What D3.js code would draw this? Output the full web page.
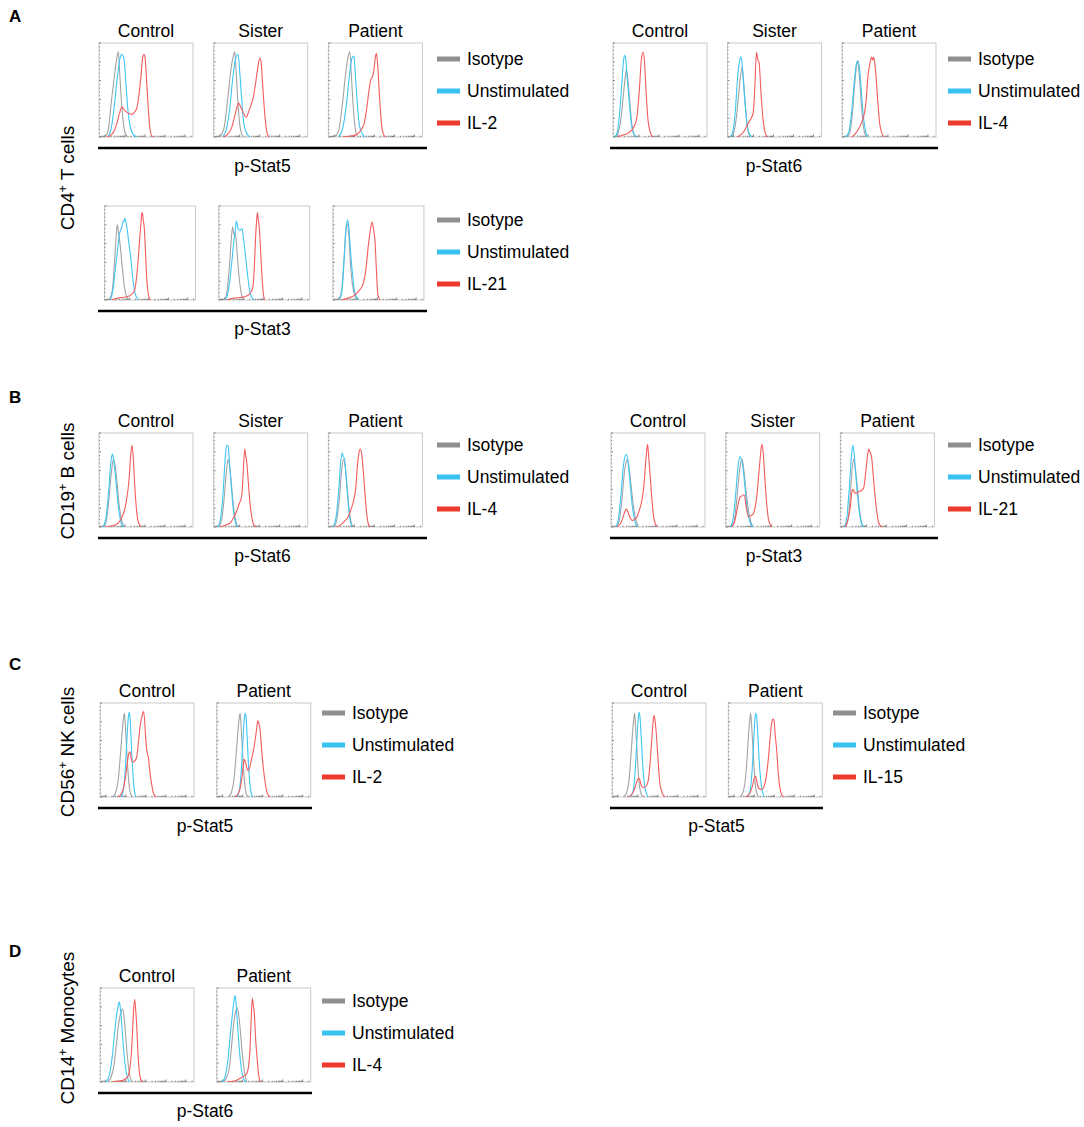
<!DOCTYPE html>
<html>
<head>
<meta charset="utf-8">
<script src="https://cdn.jsdelivr.net/npm/d3@7"></script>
<style>
  body { margin: 0; background: #fff; }
  text { font-family: "Liberation Sans", Arial, Helvetica, sans-serif; fill: #000; }
</style>
</head>
<body>
<svg id="fig" width="1084" height="1127"></svg>
<script>
// ---- labels ----
const samples3 = ['Control', 'Sister', 'Patient'];
const samples2 = ['Control', 'Patient'];
const legendNames = ['Isotype', 'Unstimulated'];

// ---- histograms: [log10 fluorescence, % of max] per sample ----
// A: CD4+ T cells, p-Stat5 / IL-2
const cd4Stat5Iso = [
  [[1.0,0],[1.15,6],[1.33,40],[1.5,70],[1.6,85],[1.67,91],[1.73,70],[1.8,45],[1.9,18],[2.0,5],[2.1,1],[2.2,0]],
  [[1.0,0],[1.2,8],[1.4,40],[1.55,70],[1.68,86],[1.75,91],[1.82,70],[1.9,40],[2.0,14],[2.1,3],[2.2,0]],
  [[1.0,0],[1.2,6],[1.4,35],[1.55,65],[1.68,85],[1.77,91],[1.85,65],[1.95,30],[2.05,8],[2.15,1],[2.25,0]]
];
const cd4Stat5Uns = [
  [[1.15,0],[1.3,8],[1.45,30],[1.6,60],[1.75,84],[1.85,88],[1.9,86],[1.97,80],[2.05,55],[2.15,28],[2.25,12],[2.4,3],[2.6,0]],
  [[1.15,0],[1.35,10],[1.5,30],[1.65,62],[1.8,84],[1.92,88],[2.0,70],[2.1,40],[2.2,15],[2.35,4],[2.5,0]],
  [[1.2,0],[1.4,8],[1.6,35],[1.75,65],[1.88,84],[1.98,86],[2.05,65],[2.15,35],[2.25,12],[2.4,3],[2.55,0]]
];
const cd4Stat5Il2 = [
  [[1.08,0],[1.3,2],[1.45,6],[1.6,15],[1.75,27],[1.85,32],[1.95,29],[2.05,27],[2.2,25],[2.35,24],[2.45,26],[2.58,30],[2.7,45],[2.8,65],[2.88,84],[2.95,88],[3.0,85],[3.08,60],[3.15,35],[3.25,8],[3.35,1],[3.45,0]],
  [[1.17,0],[1.4,3],[1.6,10],[1.75,22],[1.88,33],[1.95,36],[2.05,32],[2.2,25],[2.33,21],[2.45,27],[2.58,35],[2.67,41],[2.78,55],[2.9,73],[3.0,84],[3.07,80],[3.15,55],[3.25,25],[3.35,6],[3.45,0]],
  [[1.4,0],[1.8,1],[2.05,2],[2.23,5],[2.38,9],[2.48,14],[2.6,28],[2.72,48],[2.82,61],[2.9,64],[2.98,72],[3.05,85],[3.1,89],[3.17,75],[3.25,45],[3.35,15],[3.45,3],[3.55,0]]
];
// A: CD4+ T cells, p-Stat6 / IL-4
const cd4Stat6Iso = [
  [[0.85,0],[0.95,4],[1.1,20],[1.22,45],[1.32,65],[1.37,72],[1.45,60],[1.55,35],[1.65,12],[1.75,3],[1.85,0]],
  [[0.9,0],[1.0,4],[1.15,22],[1.27,48],[1.37,68],[1.43,74],[1.5,60],[1.6,32],[1.7,10],[1.8,2],[1.9,0]],
  [[0.95,0],[1.1,5],[1.22,25],[1.33,55],[1.42,75],[1.48,81],[1.55,70],[1.65,40],[1.75,15],[1.85,3],[1.95,0]]
];
const cd4Stat6Uns = [
  [[0.8,0],[0.92,6],[1.05,30],[1.15,60],[1.22,80],[1.28,87],[1.34,82],[1.42,60],[1.52,35],[1.62,14],[1.72,4],[1.85,0]],
  [[0.85,0],[0.97,6],[1.1,30],[1.2,62],[1.3,80],[1.37,85],[1.42,80],[1.5,58],[1.6,30],[1.7,10],[1.8,3],[1.92,0]],
  [[0.9,0],[1.05,6],[1.2,30],[1.32,60],[1.42,78],[1.5,81],[1.58,72],[1.68,45],[1.78,20],[1.88,6],[2.0,0]]
];
const cd4Stat6Il4 = [
  [[0.95,0],[1.2,2],[1.45,4],[1.62,7],[1.75,11],[1.87,18],[1.95,32],[2.03,54],[2.12,83],[2.2,90],[2.28,79],[2.35,50],[2.45,18],[2.55,6],[2.62,2],[2.72,0]],
  [[1.15,0],[1.4,3],[1.55,7],[1.65,11],[1.8,17],[1.98,25],[2.06,50],[2.15,90],[2.22,82],[2.28,79],[2.38,45],[2.48,18],[2.58,5],[2.68,0]],
  [[1.15,0],[1.35,3],[1.48,7],[1.65,14],[1.82,25],[1.92,42],[1.98,61],[2.08,76],[2.18,85],[2.23,82],[2.28,85],[2.34,78],[2.4,65],[2.5,35],[2.58,15],[2.65,7],[2.73,2],[2.82,0]]
];
// A: CD4+ T cells, p-Stat3 / IL-21
const cd4Stat3Iso = [
  [[0.95,0],[1.1,10],[1.22,40],[1.3,67],[1.36,80],[1.42,72],[1.5,60],[1.6,39],[1.72,15],[1.85,3],[1.95,0]],
  [[1.0,0],[1.12,8],[1.25,35],[1.35,65],[1.42,78],[1.48,70],[1.55,72],[1.65,50],[1.75,25],[1.87,7],[2.0,0]],
  [[1.0,0],[1.15,10],[1.28,45],[1.37,75],[1.44,81],[1.52,70],[1.6,40],[1.7,18],[1.82,5],[1.95,0]]
];
const cd4Stat3Uns = [
  [[1.0,0],[1.15,12],[1.27,35],[1.4,58],[1.47,70],[1.53,74],[1.6,78],[1.66,84],[1.7,83],[1.75,87],[1.85,78],[1.95,62],[2.05,46],[2.15,25],[2.25,10],[2.35,3],[2.45,0]],
  [[1.05,0],[1.2,10],[1.35,35],[1.48,62],[1.56,75],[1.61,84],[1.7,76],[1.8,74],[1.9,76],[2.0,62],[2.09,46],[2.2,25],[2.3,10],[2.4,3],[2.55,0]],
  [[1.05,0],[1.18,12],[1.3,50],[1.38,75],[1.46,85],[1.52,78],[1.6,55],[1.7,30],[1.8,12],[1.9,4],[2.0,0]]
];
const cd4Stat3Il21 = [
  [[1.05,0],[1.4,2],[1.7,3],[1.94,4],[2.1,6],[2.25,10],[2.36,25],[2.45,46],[2.52,66],[2.58,81],[2.63,92],[2.66,93],[2.7,85],[2.75,78],[2.82,50],[2.88,24],[2.95,8],[3.02,2],[3.1,0]],
  [[1.1,0],[1.5,2],[1.9,3],[2.1,4],[2.28,6],[2.4,10],[2.47,14],[2.54,35],[2.6,64],[2.66,85],[2.7,93],[2.75,85],[2.81,74],[2.87,50],[2.94,24],[3.0,8],[3.08,0]],
  [[1.1,0],[1.5,2],[1.88,6],[2.05,10],[2.26,17],[2.4,32],[2.54,60],[2.64,75],[2.73,83],[2.8,75],[2.87,64],[2.94,35],[3.02,6],[3.1,1],[3.17,0]]
];
// B: CD19+ B cells, p-Stat6 / IL-4
const cd19Stat6Iso = [
  [[0.95,0],[1.08,8],[1.2,30],[1.32,58],[1.42,72],[1.5,66],[1.6,48],[1.7,25],[1.8,10],[1.92,2],[2.0,0]],
  [[0.95,0],[1.1,8],[1.22,30],[1.33,58],[1.42,72],[1.5,64],[1.6,42],[1.7,20],[1.8,7],[1.9,0]],
  [[1.0,0],[1.12,8],[1.25,30],[1.36,60],[1.46,72],[1.54,64],[1.64,42],[1.74,18],[1.84,5],[1.95,0]]
];
const cd19Stat6Uns = [
  [[0.9,0],[1.05,10],[1.18,38],[1.3,70],[1.37,78],[1.45,68],[1.55,48],[1.65,25],[1.75,10],[1.85,2],[1.95,0]],
  [[0.92,0],[1.05,10],[1.18,40],[1.28,75],[1.35,87],[1.42,86],[1.5,65],[1.6,38],[1.7,15],[1.8,4],[1.9,0]],
  [[0.95,0],[1.08,10],[1.22,40],[1.32,70],[1.4,79],[1.45,74],[1.5,74],[1.58,55],[1.68,28],[1.78,8],[1.88,0]]
];
const cd19Stat6Il4 = [
  [[1.05,0],[1.3,1],[1.5,2],[1.65,4],[1.75,7],[1.88,12],[2.0,20],[2.1,32],[2.2,50],[2.28,75],[2.35,87],[2.41,75],[2.48,47],[2.56,22],[2.63,9],[2.69,4],[2.78,0]],
  [[1.0,0],[1.3,2],[1.55,5],[1.7,10],[1.85,17],[1.98,25],[2.1,33],[2.17,55],[2.25,83],[2.3,76],[2.35,70],[2.43,48],[2.5,29],[2.58,14],[2.69,3],[2.83,0]],
  [[1.05,0],[1.3,2],[1.5,6],[1.69,11],[1.85,20],[1.97,29],[2.07,42],[2.15,65],[2.22,78],[2.29,83],[2.36,78],[2.44,61],[2.53,35],[2.63,11],[2.7,3],[2.78,0]]
];
// B: CD19+ B cells, p-Stat3 / IL-21
const cd19Stat3Iso = [
  [[1.0,0],[1.12,8],[1.25,30],[1.38,60],[1.47,70],[1.52,72],[1.6,64],[1.7,45],[1.82,22],[1.95,7],[2.08,0]],
  [[1.0,0],[1.12,6],[1.25,28],[1.38,58],[1.47,70],[1.52,72],[1.6,62],[1.7,42],[1.82,20],[1.95,6],[2.08,0]],
  [[0.95,0],[1.08,8],[1.2,35],[1.3,65],[1.37,72],[1.45,62],[1.55,42],[1.65,20],[1.75,6],[1.85,0]]
];
const cd19Stat3Uns = [
  [[0.95,0],[1.08,10],[1.2,35],[1.32,65],[1.42,76],[1.48,77],[1.56,68],[1.65,48],[1.75,25],[1.87,8],[2.0,0]],
  [[0.95,0],[1.08,10],[1.2,35],[1.32,65],[1.42,75],[1.48,72],[1.55,66],[1.65,45],[1.77,20],[1.9,6],[2.05,0]],
  [[0.9,0],[1.02,10],[1.14,40],[1.25,75],[1.32,87],[1.38,80],[1.45,60],[1.55,35],[1.65,15],[1.75,4],[1.87,0]]
];
const cd19Stat3Il21 = [
  [[1.0,0],[1.15,3],[1.3,10],[1.4,17],[1.47,19],[1.55,16],[1.65,10],[1.75,7],[1.88,8],[2.0,11],[2.12,18],[2.25,29],[2.35,45],[2.42,65],[2.5,84],[2.53,88],[2.58,76],[2.67,51],[2.75,28],[2.83,11],[2.92,3],[3.0,0]],
  [[1.0,0],[1.15,6],[1.3,22],[1.42,32],[1.5,33],[1.58,34],[1.63,34],[1.72,22],[1.83,11],[1.95,12],[2.08,14],[2.18,22],[2.25,32],[2.35,55],[2.42,72],[2.5,88],[2.56,82],[2.62,65],[2.7,38],[2.78,18],[2.85,7],[3.0,0]],
  [[0.95,0],[1.08,8],[1.2,22],[1.27,37],[1.33,40],[1.42,36],[1.53,36],[1.62,38],[1.7,38],[1.8,40],[1.87,42],[1.95,55],[2.0,65],[2.07,78],[2.12,83],[2.18,80],[2.25,76],[2.33,58],[2.45,29],[2.55,12],[2.62,4],[2.78,0]]
];
// C: CD56+ NK cells, p-Stat5 / IL-2
const cd56Il2Iso = [
  [[1.35,0],[1.5,6],[1.62,20],[1.72,45],[1.82,72],[1.88,85],[1.92,89],[1.97,75],[2.05,45],[2.13,18],[2.2,6],[2.3,0]],
  [[1.3,0],[1.45,6],[1.57,20],[1.67,45],[1.77,72],[1.83,85],[1.87,89],[1.92,75],[2.0,45],[2.08,18],[2.15,6],[2.25,0]]
];
const cd56Il2Uns = [
  [[1.75,0],[1.85,6],[1.95,25],[2.03,55],[2.1,80],[2.15,90],[2.2,85],[2.26,60],[2.33,30],[2.4,10],[2.5,0]],
  [[1.7,0],[1.82,6],[1.92,25],[2.0,55],[2.07,80],[2.12,89],[2.17,85],[2.23,60],[2.3,30],[2.38,10],[2.48,0]]
];
const cd56Il2Stim = [
  [[1.6,0],[1.75,3],[1.88,10],[1.98,22],[2.08,39],[2.14,46],[2.2,48],[2.27,40],[2.33,37],[2.42,38],[2.53,42],[2.62,58],[2.7,74],[2.8,86],[2.87,91],[2.93,82],[2.98,64],[3.05,48],[3.12,42],[3.2,26],[3.28,14],[3.36,5],[3.45,1],[3.53,0]],
  [[1.6,0],[1.75,3],[1.88,10],[1.98,24],[2.05,38],[2.08,40],[2.15,36],[2.22,30],[2.28,28],[2.38,34],[2.48,44],[2.56,52],[2.63,62],[2.7,73],[2.75,81],[2.8,79],[2.87,71],[2.95,50],[3.03,31],[3.12,16],[3.2,6],[3.28,2],[3.37,0]]
];
// C: CD56+ NK cells, p-Stat5 / IL-15
const cd56Il15Iso = [
  [[1.3,0],[1.45,6],[1.56,20],[1.65,45],[1.74,72],[1.8,85],[1.83,89],[1.88,75],[1.96,45],[2.04,18],[2.12,6],[2.25,0]],
  [[1.3,0],[1.45,6],[1.56,20],[1.65,45],[1.73,72],[1.79,85],[1.82,89],[1.87,75],[1.95,45],[2.03,18],[2.1,6],[2.22,0]]
];
const cd56Il15Uns = [
  [[1.6,0],[1.75,6],[1.85,25],[1.93,55],[2.0,80],[2.05,90],[2.1,85],[2.17,60],[2.25,30],[2.35,10],[2.5,0]],
  [[1.65,0],[1.78,6],[1.88,25],[1.96,55],[2.02,80],[2.07,89],[2.12,85],[2.19,60],[2.27,30],[2.37,10],[2.5,0]]
];
const cd56Il15Stim = [
  [[1.5,0],[1.65,2],[1.78,6],[1.88,12],[1.95,17],[2.02,20],[2.08,19],[2.15,13],[2.25,10],[2.38,11],[2.5,16],[2.58,30],[2.67,55],[2.75,78],[2.8,87],[2.86,80],[2.92,66],[3.0,40],[3.08,17],[3.18,6],[3.3,1],[3.42,0]],
  [[1.55,0],[1.7,2],[1.82,6],[1.92,13],[2.0,20],[2.07,22],[2.13,16],[2.23,9],[2.35,8],[2.48,11],[2.6,22],[2.7,40],[2.8,65],[2.88,80],[2.93,83],[2.98,82],[3.05,65],[3.12,50],[3.2,25],[3.28,10],[3.38,2],[3.45,0]]
];
// D: CD14+ monocytes, p-Stat6 / IL-4
const cd14Stat6Iso = [
  [[1.1,0],[1.25,5],[1.4,18],[1.52,40],[1.62,60],[1.72,72],[1.78,76],[1.83,78],[1.9,70],[1.98,50],[2.08,25],[2.18,8],[2.3,0]],
  [[1.05,0],[1.2,5],[1.35,18],[1.45,40],[1.55,62],[1.65,75],[1.73,79],[1.8,72],[1.88,55],[1.98,30],[2.08,12],[2.2,0]]
];
const cd14Stat6Uns = [
  [[1.0,0],[1.15,6],[1.3,25],[1.42,50],[1.52,70],[1.6,80],[1.67,85],[1.72,78],[1.8,58],[1.9,30],[2.0,12],[2.1,3],[2.2,0]],
  [[0.98,0],[1.12,6],[1.27,25],[1.4,55],[1.5,75],[1.57,87],[1.62,92],[1.68,80],[1.76,55],[1.86,28],[1.96,10],[2.08,2],[2.2,0]]
];
const cd14Stat6Il4 = [
  [[1.3,0],[1.6,1],[1.87,2],[2.0,4],[2.12,7],[2.2,15],[2.28,34],[2.33,55],[2.37,73],[2.43,88],[2.48,78],[2.53,62],[2.6,30],[2.66,12],[2.72,4],[2.83,0]],
  [[1.2,0],[1.6,1],[1.87,4],[2.05,6],[2.2,9],[2.3,18],[2.37,37],[2.43,70],[2.48,89],[2.53,82],[2.58,73],[2.65,45],[2.73,23],[2.8,7],[2.87,0]]
];

// ---- layout ----
const boxH = 94;
const colors = { iso: '#a3a3a3', uns: '#3fc6f2', stim: '#f45c5c' };
const swatch = { iso: '#8f8f8f', uns: '#38c2f0', stim: '#ee3a2c' };

const groups = [
  { left: 99,  top: 43,  w: 94, pitch: 114.7, line: [98, 427],  names: samples3, readout: 'p-Stat5', stim: 'IL-2',  legendY: 91,   data: [cd4Stat5Iso, cd4Stat5Uns, cd4Stat5Il2] },
  { left: 613, top: 43,  w: 94, pitch: 114.5, line: [610, 938], names: samples3, readout: 'p-Stat6', stim: 'IL-4',  legendY: 91,   data: [cd4Stat6Iso, cd4Stat6Uns, cd4Stat6Il4] },
  { left: 104.5, top: 206, w: 91, pitch: 114.2, line: [98, 427], names: samples3, readout: 'p-Stat3', stim: 'IL-21', legendY: 252,  data: [cd4Stat3Iso, cd4Stat3Uns, cd4Stat3Il21], noTitle: true },
  { left: 99,  top: 433, w: 94, pitch: 114.7, line: [98, 427],  names: samples3, readout: 'p-Stat6', stim: 'IL-4',  legendY: 477,  data: [cd19Stat6Iso, cd19Stat6Uns, cd19Stat6Il4] },
  { left: 611, top: 433, w: 94, pitch: 114.7, line: [610, 938], names: samples3, readout: 'p-Stat3', stim: 'IL-21', legendY: 477,  data: [cd19Stat3Iso, cd19Stat3Uns, cd19Stat3Il21] },
  { left: 100, top: 703, w: 94, pitch: 116.7, line: [98, 312],  names: samples2, readout: 'p-Stat5', stim: 'IL-2',  legendY: 745,  data: [cd56Il2Iso, cd56Il2Uns, cd56Il2Stim] },
  { left: 612, top: 703, w: 94, pitch: 116.3, line: [610, 823], names: samples2, readout: 'p-Stat5', stim: 'IL-15', legendY: 745,  data: [cd56Il15Iso, cd56Il15Uns, cd56Il15Stim] },
  { left: 100, top: 988, w: 94, pitch: 116.7, line: [98, 312],  names: samples2, readout: 'p-Stat6', stim: 'IL-4',  legendY: 1033, data: [cd14Stat6Iso, cd14Stat6Uns, cd14Stat6Il4] }
];

const letters = [['A', 22], ['B', 403], ['C', 670], ['D', 957]];
const cellLabels = [['CD4', ' T cells', 178], ['CD19', ' B cells', 481], ['CD56', ' NK cells', 752], ['CD14', ' Monocytes', 1028]];

// ---- scales ----
const y = d3.scaleLinear().domain([0, 100]).range([boxH, 0]);

const svg = d3.select('#fig');
svg.append('rect').attr('width', 1084).attr('height', 1127).attr('fill', '#fff');
const defs = svg.append('defs');

function drawBox(g, series, boxW, clipId) {
  const x = d3.scaleLinear().domain([0.7, 5.4]).range([0, boxW]);
  const xLog = d3.scaleLog().domain([Math.pow(10, 0.7), Math.pow(10, 5.4)]).range([0, boxW]);
  const line = d3.line().x(d => x(d[0])).y(d => y(d[1])).curve(d3.curveMonotoneX);

  g.append('rect').attr('width', boxW).attr('height', boxH)
    .attr('fill', '#fff').attr('stroke', '#c9c9c9').attr('stroke-width', 1);

  // left ticks
  g.selectAll('.ytick').data(d3.range(0, 101, 4)).join('line')
    .attr('x1', 0).attr('x2', d => d % 20 === 0 ? 2 : 1)
    .attr('y1', d => y(d)).attr('y2', d => y(d))
    .attr('stroke', '#555').attr('stroke-width', 0.7);

  // bottom log ticks
  g.selectAll('.xtick').data(xLog.ticks()).join('line')
    .attr('x1', d => xLog(d)).attr('x2', d => xLog(d))
    .attr('y1', boxH).attr('y2', d => Math.abs(Math.log10(d) % 1) < 1e-6 ? boxH - 2.5 : boxH - 1.3)
    .attr('stroke', '#555').attr('stroke-width', 0.7);

  defs.append('clipPath').attr('id', clipId)
    .append('rect').attr('width', boxW).attr('height', boxH);
  const plot = g.append('g').attr('clip-path', `url(#${clipId})`);
  [['iso', series[0]], ['uns', series[1]], ['stim', series[2]]].forEach(([k, pts]) => {
    plot.append('path').attr('d', line(pts))
      .attr('fill', 'none').attr('stroke', colors[k]).attr('stroke-width', 1.1)
      .attr('stroke-linejoin', 'round');
  });
}

groups.forEach((grp, gi) => {
  grp.names.forEach((name, i) => {
    const gx = grp.left + i * grp.pitch;
    const g = svg.append('g').attr('transform', `translate(${gx},${grp.top})`);
    drawBox(g, [grp.data[0][i], grp.data[1][i], grp.data[2][i]], grp.w, `clip${gi}_${i}`);
    if (!grp.noTitle) {
      svg.append('text').attr('x', gx + grp.w / 2).attr('y', grp.top - 6)
        .attr('text-anchor', 'middle').attr('font-size', 17.5).text(name);
    }
  });

  const lineY = grp.top + boxH + 11;
  svg.append('line').attr('x1', grp.line[0]).attr('x2', grp.line[1])
    .attr('y1', lineY).attr('y2', lineY).attr('stroke', '#000').attr('stroke-width', 2.6);
  svg.append('text').attr('x', (grp.line[0] + grp.line[1]) / 2).attr('y', lineY + 24)
    .attr('text-anchor', 'middle').attr('font-size', 17.5).text(grp.readout);

  // legend
  const entries = [['iso', legendNames[0]], ['uns', legendNames[1]], ['stim', grp.stim]];
  const lx = grp.line[1] + 10;
  entries.forEach(([k, label], j) => {
    const cy = grp.legendY + (j - 1) * 32;
    svg.append('rect').attr('x', lx).attr('y', cy - 2.5).attr('width', 23).attr('height', 5)
      .attr('fill', swatch[k]);
    svg.append('text').attr('x', lx + 30).attr('y', cy + 6.3)
      .attr('font-size', 17.5).text(label);
  });
});

letters.forEach(([l, yy]) => {
  svg.append('text').attr('x', 9).attr('y', yy).attr('font-size', 17)
    .attr('font-weight', 'bold').text(l);
});

cellLabels.forEach(([a, b, cy]) => {
  const t = svg.append('text').attr('transform', `translate(74,${cy}) rotate(-90)`)
    .attr('text-anchor', 'middle').attr('font-size', 19);
  t.append('tspan').text(a);
  t.append('tspan').attr('font-size', 12).attr('dy', -7.5).text('+');
  t.append('tspan').attr('dy', 7.5).text(b);
});
</script>
</body>
</html>
